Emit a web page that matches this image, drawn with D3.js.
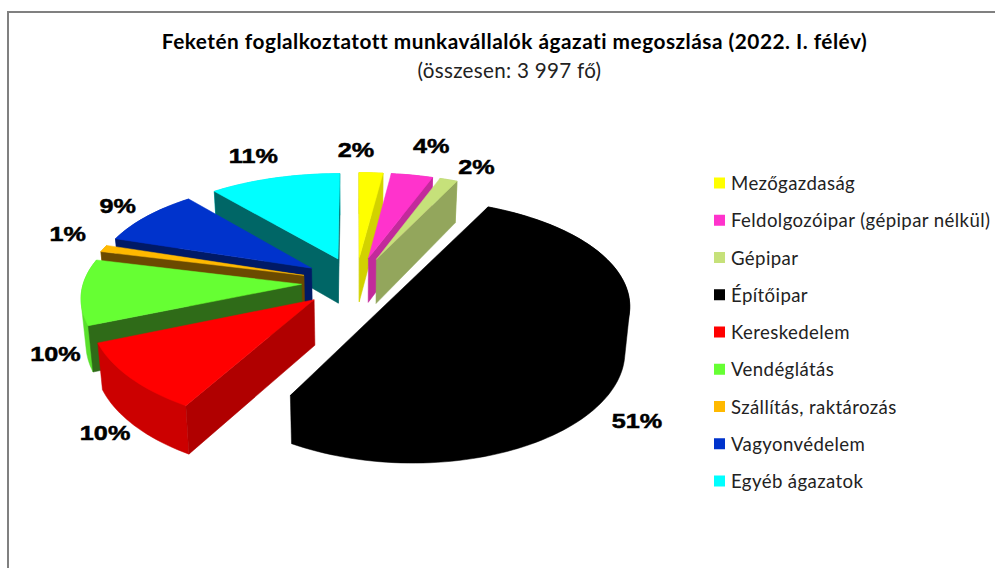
<!DOCTYPE html>
<html lang="hu">
<head>
<meta charset="utf-8">
<title>Feketén foglalkoztatott munkavállalók ágazati megoszlása</title>
<script src="https://cdn.jsdelivr.net/npm/d3@7"></script>
<style>
html,body{margin:0;padding:0;background:#fff;overflow:hidden}
svg{display:block}
</style>
</head>
<body>
<svg id="chart" width="995" height="568"></svg>
<script>
// ---- data ----
const categories = ["Mezőgazdaság","Feldolgozóipar (gépipar nélkül)","Gépipar","Építőipar","Kereskedelem","Vendéglátás","Szállítás, raktározás","Vagyonvédelem","Egyéb ágazatok"];
const shares = [2.0, 3.5, 1.5, 51.4, 10.4, 10.1, 1.1, 9.0, 11.0];
const titleText = "Feketén foglalkoztatott munkavállalók ágazati megoszlása (2022. I. félév)";
const subtitleText = "(összesen: 3 997 fő)";

// ---- style ----
const topColors  = ["#ffff00","#ff33cc","#c6e17a","#000000","#ff0000","#66ff33","#ffb900","#0033cc","#00ffff"];
const sideColors = ["#d2d200","#c22a9b","#93a65c","#000000","#b00000","#2f6b18","#6b4a00","#001a66","#006666"];
const rimColors  = ["#e6e600","#e02db4","#aec66a","#000000","#cc0000","#59e02c","#e0a300","#002db4","#00e0e0"];
const paintOrder = [8,7,6,5,0,1,2,4,3];
const labelNudges = [[-15,-23],[19,-29],[28,-13],[21,76],[-25,55],[-26,62],[-36,-15],[-29,-11],[-21,-22]];

// ---- camera ----
const W = 995, H = 568;
const cam = {cx:356, cy:282.4, sx:218, kx:0.11, sy:103, ky:0.137, depth:45, kd:0.07, shrink:0.982};
const explodeX = 0.25, explodeY = 0.25;
const bigSliceShift = [0.234, -0.09];  // the dominant slice is pulled out further

const project = (X, Y, down) => {
  const px = cam.sx * X / (1 + cam.kx * Y);
  const py = cam.cy - cam.sy * Y / (1 + cam.ky * Y);
  return down
    ? [cam.cx + px * cam.shrink, py + cam.depth / (1 + cam.kd * Y)]
    : [cam.cx + px, py];
};

const svg = d3.select("#chart");
const line = d3.line().curve(d3.curveLinear);

// frame
svg.append("path")
  .attr("d", `M8,${H}V12H${W}`)
  .attr("fill","none").attr("stroke","#808080").attr("stroke-width",2);

// title
svg.append("text").attr("x",514.5).attr("y",49).attr("text-anchor","middle")
  .attr("font-family","Lato, 'Open Sans', sans-serif").attr("font-weight",700).attr("font-size",20.8)
  .attr("letter-spacing",0.5).attr("fill","#000").text(titleText);
svg.append("text").attr("x",509.5).attr("y",78).attr("text-anchor","middle")
  .attr("font-family","Lato, 'Open Sans', sans-serif").attr("font-size",20.6)
  .attr("letter-spacing",0.3).attr("fill","#222").text(subtitleText);

// pie
const arcs = d3.pie().sort(null).startAngle(0).endAngle(2*Math.PI)(shares);
const slices = arcs.map((a,i) => {
  const mid = (a.startAngle + a.endAngle) / 2;
  const off = i === shares.indexOf(d3.max(shares))
    ? bigSliceShift
    : [explodeX * Math.sin(mid), explodeY * Math.cos(mid)];
  const pt = (ang, r, down) => project(off[0] + r*Math.sin(ang), off[1] + r*Math.cos(ang), down);
  return {i, a, mid, pt};
});

const plot = svg.append("g");
paintOrder.forEach(i => {
  const s = slices[i];
  const g = plot.append("g");
  const n = Math.max(4, Math.ceil((s.a.endAngle - s.a.startAngle) / 0.03));
  const angles = d3.range(n + 1).map(k => s.a.startAngle + (s.a.endAngle - s.a.startAngle) * k / n);
  const topArc = angles.map(t => s.pt(t, 1, false));
  const lowArc = angles.map(t => s.pt(t, 1, true));
  const apex = s.pt(0, 0, false), apexLow = s.pt(0, 0, true);

  // outer rim: convex outline of both arcs, the top and cut faces paint over the rest
  g.append("path").attr("d", line(d3.polygonHull(topArc.concat(lowArc))) + "Z")
    .attr("fill", rimColors[i]).attr("stroke", rimColors[i]).attr("stroke-width",0.5);

  // radial cut faces: only those turned towards the viewer
  const inner = s.pt(s.mid, 1, false);
  [s.a.startAngle, s.a.endAngle].forEach(t => {
    const q = s.pt(t, 1, false), qLow = s.pt(t, 1, true);
    const ex = q[0]-apex[0], ey = q[1]-apex[1];
    const sideDown = ex;                                    // cross(edge,(0,1))
    const sideIn = ex*(inner[1]-apex[1]) - ey*(inner[0]-apex[0]);
    if (sideDown * sideIn < 0) {
      g.append("path").attr("d", line([apex,q,qLow,apexLow]) + "Z")
        .attr("fill", sideColors[i]).attr("stroke", sideColors[i]).attr("stroke-width",0.5);
    }
  });

  // top face
  g.append("path").attr("d", line([apex].concat(topArc)) + "Z")
    .attr("fill", topColors[i]).attr("stroke", topColors[i]).attr("stroke-width",0.5);
});

// percentage labels
const labels = svg.append("g");
slices.forEach(s => {
  const p = s.pt(s.mid, 1, false);
  const lx = p[0] + labelNudges[s.i][0], ly = p[1] + labelNudges[s.i][1];
  labels.append("text")
    .attr("transform", `translate(${lx},${ly}) scale(1.2,1)`)
    .attr("text-anchor","middle").attr("dominant-baseline","central")
    .attr("font-family","'Liberation Sans', Arial, sans-serif").attr("font-weight",700).attr("font-size",21)
    .attr("fill","#000").attr("stroke","#000").attr("stroke-width",0.5)
    .text(Math.round(shares[s.i]) + "%");
});

// legend
const legendY = d3.scalePoint().domain(categories).range([183, 481]);
const legend = svg.append("g").selectAll("g").data(categories).join("g")
  .attr("transform", d => `translate(714,${legendY(d)})`);
legend.append("rect").attr("x",0).attr("y",-5.5).attr("width",11).attr("height",11)
  .attr("fill",(d,i) => topColors[i]);
legend.append("text").attr("x",17).attr("y",0).attr("dominant-baseline","central")
  .attr("font-family","Lato, 'Open Sans', sans-serif").attr("font-size",18.6).attr("letter-spacing",0.4)
  .attr("fill","#222").text(d => d);
</script>
</body>
</html>
